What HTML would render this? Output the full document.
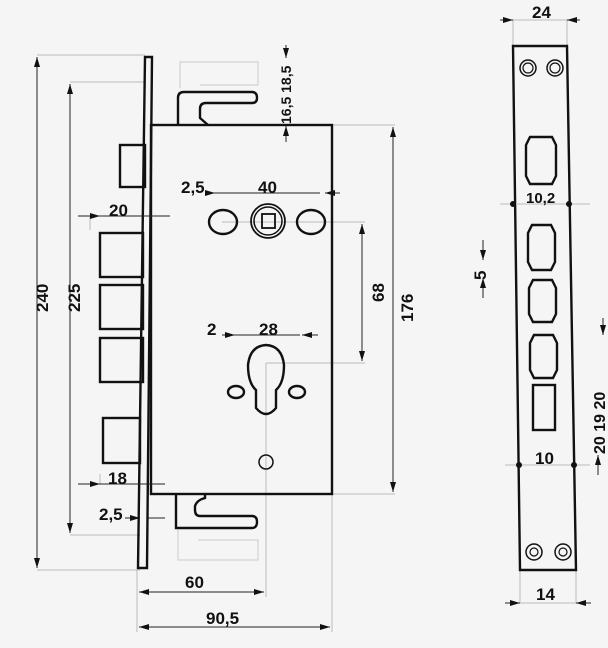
<!DOCTYPE html>
<html><head><meta charset="utf-8"><style>
html,body{margin:0;padding:0;background:#f4f4f4;}
svg{display:block}
text{font-family:"Liberation Sans",sans-serif;font-weight:bold;fill:#111}
</style></head><body>
<svg width="608" height="648" viewBox="0 0 608 648" xmlns="http://www.w3.org/2000/svg">
<defs>
<marker id="a" markerWidth="10" markerHeight="6" refX="10" refY="3" orient="auto-start-reverse"><path d="M0,0L10,3L0,6z" fill="#111"/></marker>
</defs>
<rect width="608" height="648" fill="#f5f5f5"/>
<g stroke="#bbb" stroke-width="1" fill="none">
<path d="M37,55H145 M70,82H145 M70,535H140 M37,570H140 M332,125H395 M332,494H395 M222,222H365 M266,363H365 M137,570V632 M332,494V632 M266,363V597 M90,216V230 M100,484V474 M513,20V46 M567,20V46 M520,603V570 M576,603V570"/>
<path d="M180,88V62H258V85H200 M178,530V560H258V540H198" stroke="#ccc"/>
</g>
<g stroke="#111" stroke-width="2.4" fill="none">
<path d="M145,57L152,57L147,568L138,568Z"/>
<rect x="151" y="125" width="181" height="369"/>
<path d="M178,125V98Q178,92 184,92H252Q257,92 257,98Q257,103 252,103H206Q200,103 200,109V118L208,125"/>
<path d="M176,494V528H252Q257,528 257,522Q257,516 252,516H200Q195,516 195,510V506Q197,500 205,498V494"/>
<rect x="120" y="145" width="25" height="42"/>
<rect x="100" y="233" width="43" height="44"/>
<rect x="100" y="285" width="43" height="44"/>
<rect x="100" y="338" width="43" height="44"/>
<rect x="103" y="418" width="37" height="45"/>
<circle cx="268" cy="221" r="17" stroke-width="1.8"/>
<circle cx="268" cy="221" r="14" stroke-width="1.5"/>
<rect x="262" y="214" width="13" height="14" stroke-width="1.8"/>
<ellipse cx="223" cy="222" rx="14" ry="12"/>
<ellipse cx="311" cy="222" rx="14" ry="12"/>
<path d="M256,408 L256,390 Q248,383 248,365 Q250,346 266,345 Q282,346 284,365 Q284,383 276,390 L276,408 Q266,420 256,408Z"/>
<ellipse cx="236" cy="392" rx="8" ry="6"/>
<ellipse cx="297" cy="392" rx="8" ry="6"/>
<circle cx="266" cy="462" r="7" stroke-width="1.5"/>
<path d="M513,46H567L576,570H520Z"/>
<circle cx="528" cy="68" r="8" stroke-width="1.5"/><circle cx="528" cy="68" r="5" stroke-width="1.2"/>
<circle cx="555" cy="68" r="8" stroke-width="1.5"/><circle cx="555" cy="68" r="5" stroke-width="1.2"/>
<circle cx="534" cy="552" r="8" stroke-width="1.5"/><circle cx="534" cy="552" r="4" stroke-width="1.2"/>
<circle cx="563" cy="552" r="8" stroke-width="1.5"/><circle cx="563" cy="552" r="4" stroke-width="1.2"/>
<path d="M530,137H552L556,145V176L552,184H530L526,176V145Z"/>
<path d="M532,225H551L555,233V262L551,270H532L528,262V233Z"/>
<path d="M533,280H552L556,288V314L552,322H533L529,314V288Z"/>
<path d="M534,335H553L557,343V370L553,378H534L530,370V343Z"/>
<rect x="533" y="385" width="22" height="45"/>
</g>
<g stroke="#222" stroke-width="1" fill="none">
<line x1="37" y1="57" x2="37" y2="568" marker-start="url(#a)" marker-end="url(#a)"/>
<line x1="70" y1="84" x2="70" y2="533" marker-start="url(#a)" marker-end="url(#a)"/>
<line x1="393" y1="127" x2="393" y2="492" marker-start="url(#a)" marker-end="url(#a)"/>
<line x1="362" y1="224" x2="362" y2="361" marker-start="url(#a)" marker-end="url(#a)"/>
<line x1="139" y1="592" x2="264" y2="592" marker-start="url(#a)" marker-end="url(#a)"/>
<line x1="139" y1="627" x2="330" y2="627" marker-start="url(#a)" marker-end="url(#a)"/>
<line x1="78" y1="216" x2="100" y2="216" marker-end="url(#a)"/><line x1="100" y1="216" x2="170" y2="216"/>
<line x1="78" y1="484" x2="100" y2="484" marker-end="url(#a)"/><line x1="100" y1="484" x2="165" y2="484"/>
<line x1="125" y1="518" x2="140" y2="518" marker-end="url(#a)"/><line x1="148" y1="518" x2="165" y2="518"/>
<line x1="205" y1="193" x2="215" y2="193" marker-end="url(#a)"/><line x1="215" y1="193" x2="320" y2="193"/><line x1="340" y1="193" x2="325" y2="193" marker-end="url(#a)"/>
<line x1="222" y1="335" x2="235" y2="335" marker-end="url(#a)"/><line x1="235" y1="335" x2="300" y2="335"/><line x1="318" y1="335" x2="302" y2="335" marker-end="url(#a)"/>
<line x1="286" y1="45" x2="286" y2="58" marker-end="url(#a)"/><line x1="286" y1="142" x2="286" y2="126" marker-end="url(#a)"/>
<line x1="500" y1="20" x2="513" y2="20" marker-end="url(#a)"/><line x1="580" y1="20" x2="567" y2="20" marker-end="url(#a)"/><line x1="513" y1="20" x2="567" y2="20" stroke="#bbb"/>
<line x1="505" y1="603" x2="520" y2="603" marker-end="url(#a)"/><line x1="591" y1="603" x2="576" y2="603" marker-end="url(#a)"/><line x1="520" y1="603" x2="576" y2="603" stroke="#bbb"/>
<line x1="500" y1="204" x2="590" y2="204" stroke="#bbb"/><line x1="505" y1="465" x2="590" y2="465" stroke="#bbb"/>
<line x1="483" y1="240" x2="483" y2="260" marker-end="url(#a)"/><line x1="483" y1="298" x2="483" y2="278" marker-end="url(#a)"/>
<line x1="603" y1="318" x2="603" y2="335" marker-end="url(#a)"/>
<line x1="598" y1="475" x2="598" y2="455" marker-end="url(#a)"/>
</g>
<g fill="#111"><circle cx="513" cy="204" r="3"/><circle cx="569" cy="204" r="3"/><circle cx="519" cy="465" r="3"/><circle cx="574" cy="465" r="3"/></g>
<g font-size="17">
<text x="181" y="193">2,5</text><text x="258" y="193">40</text>
<text x="109" y="216">20</text>
<text x="207" y="335">2</text><text x="259" y="335">28</text>
<text x="108" y="484">18</text><text x="99" y="520">2,5</text>
<text x="185" y="588">60</text><text x="206" y="624">90,5</text>
<text x="532" y="18">24</text><text x="536" y="600">14</text>
<text x="526" y="203" font-size="15">10,2</text><text x="535" y="464">10</text>
<text transform="translate(48,312) rotate(-90)">240</text>
<text transform="translate(80,312) rotate(-90)">225</text>
<text transform="translate(384,302) rotate(-90)">68</text>
<text transform="translate(413,322) rotate(-90)">176</text>
<text transform="translate(486,280) rotate(-90)">5</text>
<text transform="translate(291,124) rotate(-90)" font-size="14">16,5 18,5</text>
<text transform="translate(605,454) rotate(-90)" font-size="16">20 19 20</text>
</g>
</svg>
</body></html>
